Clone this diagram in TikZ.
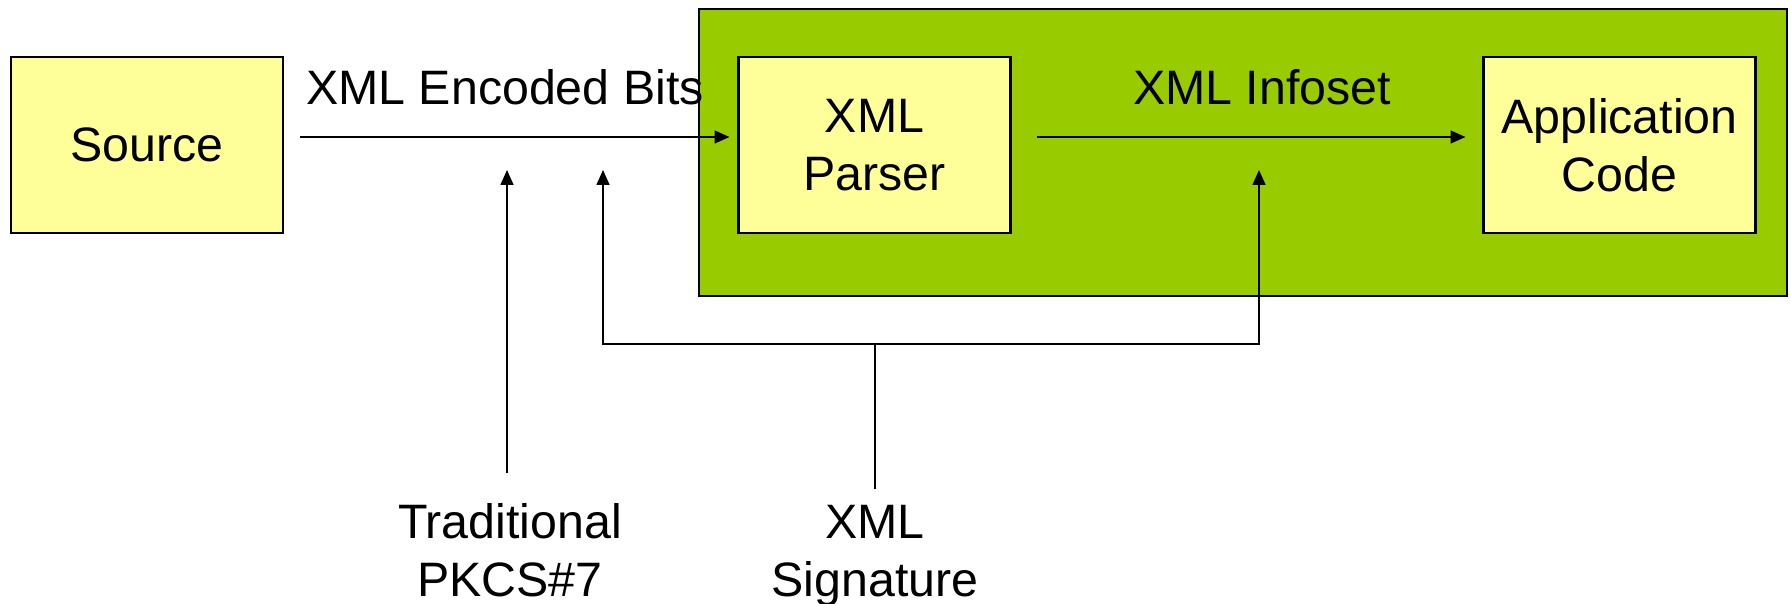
\documentclass[tikz,border=0pt]{standalone}
\usepackage{fontspec}
\setmainfont{Liberation Sans}
\usetikzlibrary{arrows.meta}
\definecolor{boxyellow}{HTML}{FFFF99}
\definecolor{panelgreen}{HTML}{99CC00}

\begin{document}
\begin{tikzpicture}[x=0.02cm,y=-0.02cm,
    every node/.style={font=\fontsize{27.5}{33}\selectfont, inner sep=0pt},
    box/.style={draw, line width=1.2pt, fill=boxyellow, align=center,
      minimum width=5.44cm, minimum height=3.52cm},
    arr/.style={line width=0.8pt, -{Triangle[length=8.5pt,width=7.4pt]}},
    wire/.style={line width=0.8pt}]

      \useasboundingbox (0,0) rectangle (1791,604);

      \node[draw, line width=1.4pt, fill=panelgreen,
        minimum width=21.76cm, minimum height=5.74cm] (panel) at (1243,152.5) {};

      \node[box] (source) at (147,145)    {Source};
      \node[box] (parser) at (874.5,145)  {XML\\Parser};
      \node[box] (app)    at (1619.5,145) {Application\\Code};

      \node[anchor=base] (bits)    at (505,105)  {XML Encoded Bits};
      \node[anchor=base] (infoset) at (1262,105) {XML Infoset};

      \node[anchor=north, align=center] (pkcs) at (510,503) {Traditional\\PKCS\#7};
      \node[anchor=north, align=center] (sig)  at (875,505) {XML\\Signature};

      \coordinate (pkcsend)  at (507,170);
      \coordinate (sigleft)  at (603,170);
      \coordinate (sigright) at (1259,170);
      \coordinate (sigjoin)  at (875,344);

      \draw[arr] ([shift={(16,-8)}]source.east) -- ([shift={(-8,-8)}]parser.west);
      \draw[arr] ([shift={(25,-8)}]parser.east) -- ([shift={(-17,-8)}]app.west);

      \draw[arr] ([shift={(-3,-30)}]pkcs.north) -- (pkcsend);
      \draw[wire] ([shift={(0,-16)}]sig.north) -- (sigjoin);
      \draw[arr] (sigjoin) -| (sigleft);
      \draw[arr] (sigjoin) -| (sigright);

    \end{tikzpicture}
\end{document}
